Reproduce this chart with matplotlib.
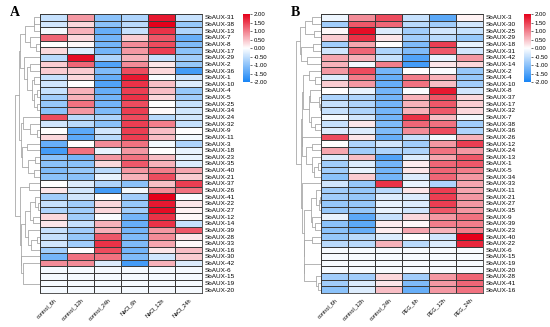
import numpy as np
import matplotlib
matplotlib.use('Agg')
import matplotlib.pyplot as plt
from matplotlib.colors import LinearSegmentedColormap

plt.rcParams['axes.unicode_minus'] = False
plt.rcParams['font.family'] = ['Liberation Sans', 'DejaVu Sans']

# ---- panel A data (salt) ----
genes_a = ['SbAUX-31', 'SbAUX-38', 'SbAUX-13', 'SbAUX-7', 'SbAUX-8', 'SbAUX-17', 'SbAUX-29',
           'SbAUX-2', 'SbAUX-36', 'SbAUX-1', 'SbAUX-10', 'SbAUX-4', 'SbAUX-5', 'SbAUX-25',
           'SbAUX-34', 'SbAUX-24', 'SbAUX-32', 'SbAUX-9', 'SbAUX-11', 'SbAUX-3', 'SbAUX-18',
           'SbAUX-23', 'SbAUX-35', 'SbAUX-40', 'SbAUX-21', 'SbAUX-37', 'SbAUX-26', 'SbAUX-41',
           'SbAUX-22', 'SbAUX-27', 'SbAUX-12', 'SbAUX-14', 'SbAUX-39', 'SbAUX-28', 'SbAUX-33',
           'SbAUX-16', 'SbAUX-30', 'SbAUX-42', 'SbAUX-6', 'SbAUX-15', 'SbAUX-19', 'SbAUX-20']
samples_a = ['control_6h', 'control_12h', 'control_24h', 'NaCl_6h', 'NaCl_12h', 'NaCl_24h']
values_a = [
    [-0.5, 0.8, -1.0, -0.7, 1.8, -0.5],
    [-0.4, 0.3, -1.0, -0.6, 2.0, -0.9],
    [-0.1, 0.6, -1.3, -0.5, 1.6, -0.7],
    [1.2, 0.3, -1.2, 0.4, 1.3, -1.3],
    [0.0, 0.05, -1.2, 0.9, 1.4, -1.1],
    [0.3, -0.3, -1.2, 0.8, 1.5, -1.0],
    [-0.6, 1.9, -0.7, 0.6, -0.5, -0.8],
    [0.4, 1.2, -1.5, 0.9, 0.2, -0.9],
    [0.4, 0.4, -1.1, 1.4, 0.3, -1.6],
    [-0.5, 0.3, -1.3, 1.8, -0.05, -0.4],
    [-0.4, 0.0, -1.5, 1.6, 0.5, -0.3],
    [-0.5, 0.6, -1.3, 1.5, 0.5, -0.9],
    [-0.8, 0.6, -1.2, 1.6, 0.3, -0.8],
    [-0.9, 1.1, -1.2, 1.4, 0.0, -0.5],
    [-1.0, 0.8, -1.1, 1.5, 0.05, -0.4],
    [1.4, -0.6, -0.7, 1.4, -0.6, -0.4],
    [-0.4, -0.6, -1.0, 1.5, 1.0, -0.5],
    [0.0, -1.4, -0.4, 1.5, 0.5, 0.0],
    [0.3, -1.4, -0.6, 1.5, 0.5, -0.1],
    [-1.3, 0.0, 0.9, 1.1, -0.1, -0.7],
    [-1.6, 1.1, -0.2, 0.8, 0.0, -0.2],
    [-1.0, -1.2, 0.8, 1.1, 0.5, -0.2],
    [-1.0, -1.0, 0.3, 1.3, 0.6, -0.3],
    [-1.1, -0.9, -0.6, 0.8, 1.0, 0.7],
    [-1.0, -1.0, -0.2, 0.6, 1.4, 0.4],
    [0.0, -0.3, -0.7, -1.0, 0.5, 1.5],
    [0.2, -0.4, -1.6, -0.1, 0.9, 1.1],
    [-0.8, -0.4, 0.0, -0.8, 2.0, -0.05],
    [-0.5, -0.8, 0.3, -0.9, 1.8, 0.2],
    [-0.7, -0.8, 0.3, -0.8, 1.9, 0.1],
    [0.3, -0.8, -0.05, -1.2, 1.6, 0.05],
    [0.2, -0.5, 0.6, -1.3, 1.6, -0.5],
    [-0.5, -0.8, 0.6, -1.2, 0.8, 1.3],
    [-0.5, -0.9, 1.3, -1.1, 0.9, 0.2],
    [-0.4, -0.8, 1.6, -1.1, 0.7, 0.05],
    [-0.8, 0.0, 1.4, -1.2, 0.2, 0.5],
    [-1.2, 1.1, 1.1, -1.1, -0.4, 0.4],
    [0.9, 0.9, -0.3, -1.6, 0.6, -0.3],
    [-0.08, -0.08, -0.08, -0.08, -0.08, -0.08],
    [-0.08, -0.08, -0.08, -0.08, -0.08, -0.08],
    [-0.08, -0.08, -0.08, -0.08, -0.08, -0.08],
    [-0.08, -0.08, -0.08, -0.08, -0.08, -0.08],
]

# ---- panel B data (PEG) ----
genes_b = ['SbAUX-3', 'SbAUX-30', 'SbAUX-25', 'SbAUX-29', 'SbAUX-18', 'SbAUX-31', 'SbAUX-42',
           'SbAUX-14', 'SbAUX-2', 'SbAUX-4', 'SbAUX-10', 'SbAUX-8', 'SbAUX-37', 'SbAUX-17',
           'SbAUX-32', 'SbAUX-7', 'SbAUX-38', 'SbAUX-36', 'SbAUX-26', 'SbAUX-12', 'SbAUX-24',
           'SbAUX-13', 'SbAUX-1', 'SbAUX-5', 'SbAUX-34', 'SbAUX-33', 'SbAUX-11', 'SbAUX-21',
           'SbAUX-27', 'SbAUX-35', 'SbAUX-9', 'SbAUX-39', 'SbAUX-23', 'SbAUX-40', 'SbAUX-22',
           'SbAUX-6', 'SbAUX-15', 'SbAUX-19', 'SbAUX-20', 'SbAUX-28', 'SbAUX-41', 'SbAUX-16']
samples_b = ['control_6h', 'control_12h', 'control_24h', 'PEG_6h', 'PEG_12h', 'PEG_24h']
values_b = [
    [-0.15, 0.9, 1.4, -0.5, -1.4, 0.1],
    [-0.8, 1.3, 1.2, -0.6, -0.8, -0.4],
    [0.05, 1.9, -0.3, -0.8, -0.4, -0.5],
    [0.4, 1.6, 0.2, -0.8, -0.6, -0.9],
    [-0.8, 0.7, 0.0, -1.1, 1.5, -0.2],
    [-0.4, 1.2, -0.7, -1.1, 1.3, -0.4],
    [0.7, 0.6, -0.5, -1.5, -0.2, 0.8],
    [0.6, -0.1, 1.0, -1.6, 0.2, 0.3],
    [0.8, 1.4, -1.2, 0.0, -0.05, -0.9],
    [-0.3, 1.0, -1.3, 1.0, 0.6, -0.9],
    [0.4, 0.8, -1.3, 1.1, 0.5, -0.8],
    [0.0, -0.2, -1.2, -0.05, 1.8, -0.4],
    [-0.7, -0.7, -1.2, 0.6, 1.3, 0.3],
    [-0.5, -0.7, -1.2, 0.6, 1.3, 0.4],
    [-0.5, -0.7, -1.2, 0.6, 1.3, 0.3],
    [-0.1, -0.4, -1.2, 1.6, 0.5, -0.1],
    [-0.5, 0.2, -1.1, 1.2, 1.1, -0.8],
    [-0.3, -0.3, -1.1, 0.9, 1.4, -0.7],
    [1.4, 0.2, -1.3, -0.5, -0.1, 0.6],
    [0.0, -0.7, -0.4, -0.8, 0.8, 1.5],
    [0.7, -0.8, -0.7, -0.7, 1.1, 0.8],
    [-0.3, 0.5, -1.5, -0.3, 0.7, 1.3],
    [-0.8, -0.3, -1.2, 0.15, 1.2, 1.3],
    [-0.8, -0.2, -1.2, 0.2, 1.2, 1.0],
    [-1.0, 0.4, -1.2, -0.3, 1.2, 0.8],
    [-0.4, -0.9, 1.6, -0.2, -0.7, 0.7],
    [-0.8, -0.9, -0.6, 0.2, 1.5, 0.7],
    [-0.8, -0.9, -0.3, -0.3, 1.5, 0.8],
    [-0.9, -0.9, -0.2, -0.3, 1.5, 0.8],
    [-0.9, -0.9, -0.2, -0.4, 1.3, 0.8],
    [-0.2, -1.4, -0.5, 0.3, 0.8, 1.1],
    [-1.0, -1.4, 0.15, 0.05, 1.0, 1.0],
    [-1.0, -1.3, 0.15, 0.7, 0.6, 1.0],
    [-0.9, -0.6, -0.3, 0.0, -0.4, 2.0],
    [-0.6, -0.6, 0.6, -0.6, -0.3, 1.7],
    [-0.07, -0.07, -0.07, -0.07, -0.07, -0.07],
    [-0.07, -0.07, -0.07, -0.07, -0.07, -0.07],
    [-0.07, -0.07, -0.07, -0.07, -0.07, -0.07],
    [-0.07, -0.07, -0.07, -0.07, -0.07, -0.07],
    [-0.8, -0.8, 0.3, -0.8, 0.8, 1.2],
    [-0.8, -0.3, 0.2, -1.1, 0.8, 1.2],
    [-1.0, -0.3, 0.5, -1.3, 0.8, 1.1],
]

cmap = LinearSegmentedColormap.from_list('bwr_tb', ['#1784F5', '#FFFFFF', '#E5001A'])
cbar_ticks = [2.0, 1.5, 1.0, 0.5, 0.0, -0.5, -1.0, -1.5, -2.0]


def row_tree(mat):
    # agglomerative clustering (average linkage) that only joins neighbouring rows,
    # so the tree fits the row order shown in the heatmap
    mat = np.asarray(mat)
    nodes = [dict(members=[i], y=i + 0.5, h=0.0) for i in range(len(mat))]
    segs = []
    while len(nodes) > 1:
        best, bi = None, 0
        for i in range(len(nodes) - 1):
            a, b = mat[nodes[i]['members']], mat[nodes[i + 1]['members']]
            d = np.sqrt(((a[:, None, :] - b[None, :, :]) ** 2).sum(-1)).mean()
            if best is None or d < best:
                best, bi = d, i
        l, r = nodes[bi], nodes[bi + 1]
        h = max(best, l['h'], r['h'])
        segs.append(([l['h'], h, h, r['h']], [l['y'], l['y'], r['y'], r['y']]))
        nodes[bi:bi + 2] = [dict(members=l['members'] + r['members'],
                                 y=(l['y'] + r['y']) / 2, h=h)]
    return segs, nodes[0]['h']


def panel(fig, x0, letter, genes, samples, values):
    data = np.array(values)
    n = len(genes)
    ax = fig.add_axes([x0 + 0.0455, 0.104, 0.2955, 0.853])
    ax.pcolormesh(data, cmap=cmap, vmin=-2, vmax=2, edgecolors='#3a3a3a', linewidth=0.5)
    ax.set_xlim(0, data.shape[1])
    ax.set_ylim(n, 0)
    ax.yaxis.tick_right()
    ax.set_yticks(np.arange(n) + 0.5)
    ax.set_yticklabels(genes, fontsize=4.6)
    ax.set_xticks(np.arange(len(samples)) + 0.5)
    ax.set_xticklabels(samples, fontsize=4.0, rotation=45, ha='right', va='top',
                       rotation_mode='anchor')
    ax.tick_params(length=0, pad=1.5)
    ax.tick_params(axis='x', pad=3)
    for s in ax.spines.values():
        s.set_color('#3a3a3a')
        s.set_linewidth(0.6)

    dax = fig.add_axes([x0, 0.104, 0.0455, 0.853])
    segs, top = row_tree(data)
    for xs, ys in segs:
        dax.plot(xs, ys, color='#a8a8a8', lw=0.6)
    dax.set_xlim(top * 1.02, 0)
    dax.set_ylim(n, 0)
    dax.axis('off')

    cax = fig.add_axes([x0 + 0.4145, 0.749, 0.0127, 0.208])
    sm = plt.cm.ScalarMappable(cmap=cmap, norm=plt.Normalize(-2, 2))
    cb = fig.colorbar(sm, cax=cax, ticks=cbar_ticks)
    cb.ax.set_yticklabels(['%.2f' % t for t in cbar_ticks], fontsize=4.3)
    cb.ax.tick_params(length=1.5, width=0.4, pad=1)
    cb.outline.set_visible(False)

    fig.text(x0 - 0.009, 0.963, letter, fontsize=10, fontweight='bold',
             family='Liberation Serif', ha='left', va='center')


fig = plt.figure(figsize=(5.5, 3.27), dpi=100)
panel(fig, 0.027, 'A', genes_a, samples_a, values_a)
panel(fig, 0.538, 'B', genes_b, samples_b, values_b)

plt.savefig('out.png', dpi=100)
